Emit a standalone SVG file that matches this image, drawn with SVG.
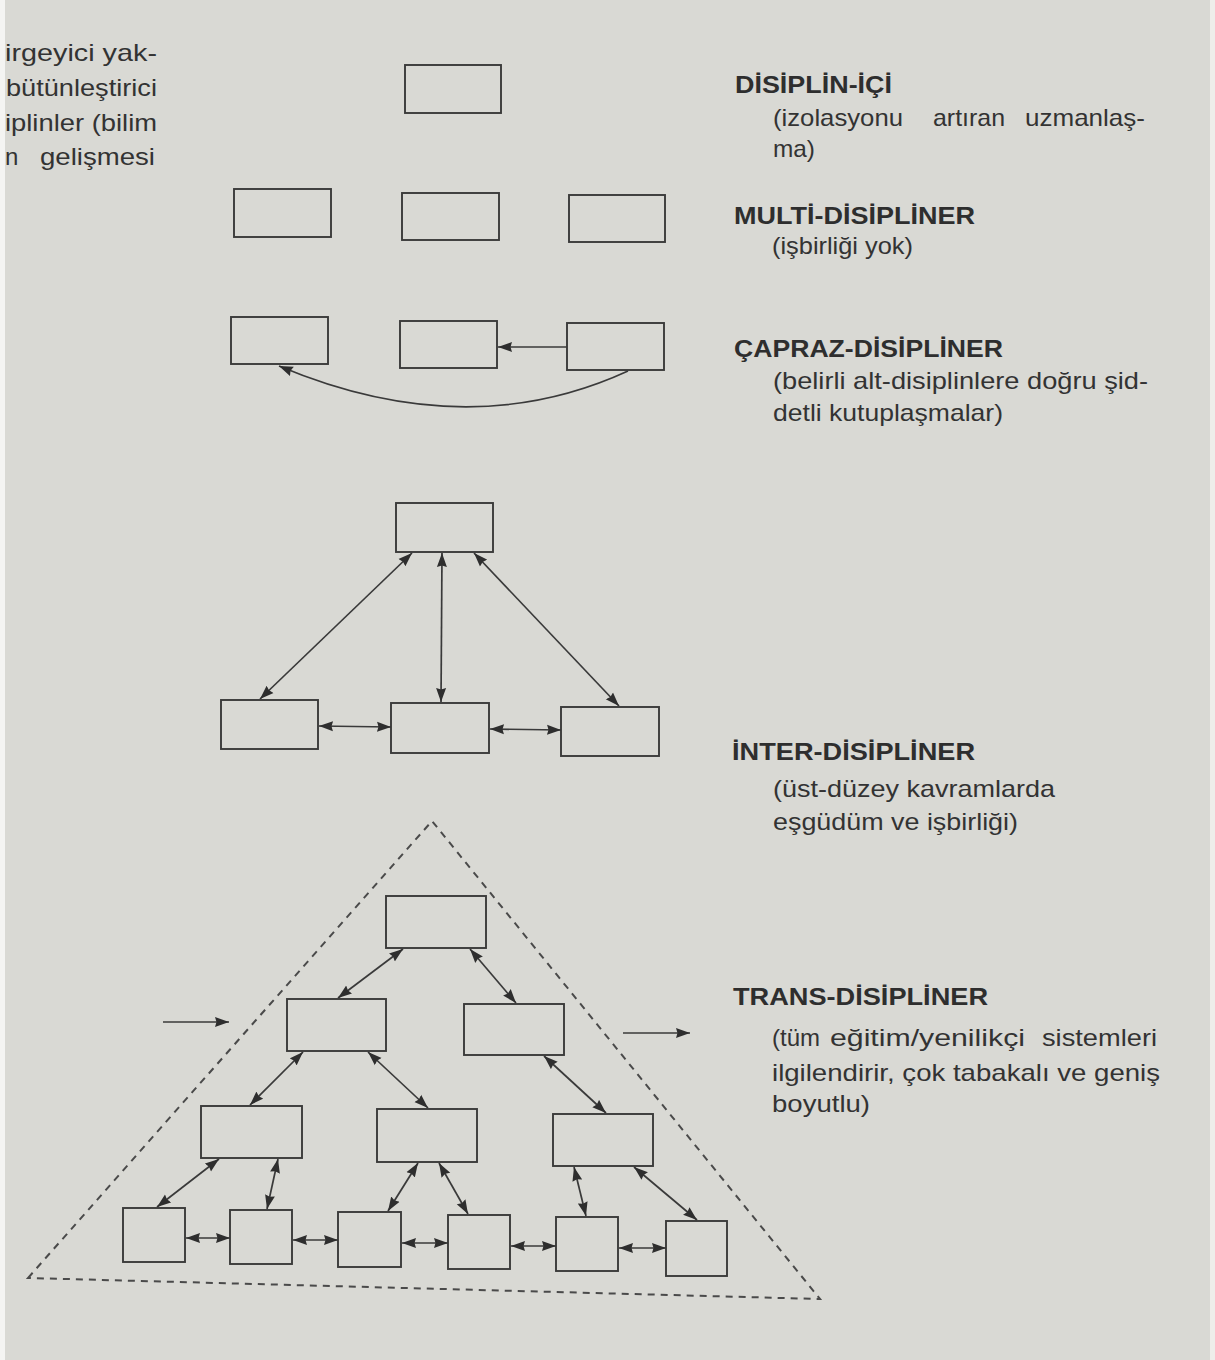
<svg xmlns="http://www.w3.org/2000/svg" width="1215" height="1360" viewBox="0 0 1215 1360">
<style>
  .bg{fill:#d9d9d4}
  .box{fill:none;stroke:#3a3a3a;stroke-width:1.9}
  .ln{fill:none;stroke:#3a3a3a;stroke-width:1.7}
  .dash{fill:none;stroke:#4a4a4a;stroke-width:2;stroke-dasharray:7 6}
  .t{font-family:"Liberation Sans",Arial,Helvetica,sans-serif;font-size:24px;fill:#333}
  .h{font-family:"Liberation Sans",Arial,Helvetica,sans-serif;font-size:23px;font-weight:bold;fill:#2e2e2e}
</style>
<defs>
  <marker id="ah" markerUnits="userSpaceOnUse" markerWidth="15" markerHeight="11" refX="14" refY="5.5" orient="auto-start-reverse">
    <path d="M0,0.5 L14,5.5 L0,10.5 L1.5,5.5 z" fill="#2e2e2e"/>
  </marker>
</defs>
<rect class="bg" x="0" y="0" width="1215" height="1360"/>

<g id="left-text">
  <text class="t" x="5" y="61" textLength="152" lengthAdjust="spacingAndGlyphs">irgeyici yak-</text>
  <text class="t" x="6" y="96" textLength="151" lengthAdjust="spacingAndGlyphs">bütünleştirici</text>
  <text class="t" x="5" y="131" textLength="152" lengthAdjust="spacingAndGlyphs">iplinler (bilim</text>
  <text class="t" y="165"><tspan x="5">n</tspan><tspan x="40" textLength="115" lengthAdjust="spacingAndGlyphs">gelişmesi</tspan></text>
</g>

<g id="labels">
  <text class="h" x="735" y="93" textLength="157" lengthAdjust="spacingAndGlyphs">DİSİPLİN-İÇİ</text>
  <text class="t" y="126"><tspan x="773" textLength="130" lengthAdjust="spacingAndGlyphs">(izolasyonu</tspan><tspan x="933" textLength="72" lengthAdjust="spacingAndGlyphs">artıran</tspan><tspan x="1025" textLength="120" lengthAdjust="spacingAndGlyphs">uzmanlaş-</tspan></text>
  <text class="t" x="773" y="157" textLength="42" lengthAdjust="spacingAndGlyphs">ma)</text>

  <text class="h" x="734" y="224" textLength="241" lengthAdjust="spacingAndGlyphs">MULTİ-DİSİPLİNER</text>
  <text class="t" x="772" y="254" textLength="141" lengthAdjust="spacingAndGlyphs">(işbirliği yok)</text>

  <text class="h" x="734" y="357" textLength="269" lengthAdjust="spacingAndGlyphs">ÇAPRAZ-DİSİPLİNER</text>
  <text class="t" x="773" y="389" textLength="375" lengthAdjust="spacingAndGlyphs">(belirli alt-disiplinlere doğru şid-</text>
  <text class="t" x="773" y="421" textLength="230" lengthAdjust="spacingAndGlyphs">detli kutuplaşmalar)</text>

  <text class="h" x="732" y="760" textLength="243" lengthAdjust="spacingAndGlyphs">İNTER-DİSİPLİNER</text>
  <text class="t" x="773" y="797" textLength="282" lengthAdjust="spacingAndGlyphs">(üst-düzey kavramlarda</text>
  <text class="t" x="773" y="830" textLength="245" lengthAdjust="spacingAndGlyphs">eşgüdüm ve işbirliği)</text>

  <text class="h" x="733" y="1005" textLength="255" lengthAdjust="spacingAndGlyphs">TRANS-DİSİPLİNER</text>
  <text class="t" y="1046"><tspan x="772" textLength="48" lengthAdjust="spacingAndGlyphs">(tüm</tspan><tspan x="830" textLength="195" lengthAdjust="spacingAndGlyphs">eğitim/yenilikçi</tspan><tspan x="1042" textLength="115" lengthAdjust="spacingAndGlyphs">sistemleri</tspan></text>
  <text class="t" x="772" y="1081" textLength="388" lengthAdjust="spacingAndGlyphs">ilgilendirir, çok tabakalı ve geniş</text>
  <text class="t" x="772" y="1112" textLength="98" lengthAdjust="spacingAndGlyphs">boyutlu)</text>
</g>

<g id="intra">
  <rect id="intra-1" class="box" x="405" y="65" width="96" height="48"/>
</g>
<g id="multi">
  <rect id="multi-1" class="box" x="234" y="189" width="97" height="48"/>
  <rect id="multi-2" class="box" x="402" y="193" width="97" height="47"/>
  <rect id="multi-3" class="box" x="569" y="195" width="96" height="47"/>
</g>
<g id="cross">
  <rect id="cross-1" class="box" x="231" y="317" width="97" height="47"/>
  <rect id="cross-2" class="box" x="400" y="321" width="97" height="47"/>
  <rect id="cross-3" class="box" x="567" y="323" width="97" height="47"/>
</g>
<g id="inter">
  <rect id="inter-top" class="box" x="396" y="503" width="97" height="49"/>
  <rect id="inter-1" class="box" x="221" y="700" width="97" height="49"/>
  <rect id="inter-2" class="box" x="391" y="703" width="98" height="50"/>
  <rect id="inter-3" class="box" x="561" y="707" width="98" height="49"/>
</g>
<g id="trans">
  <polygon id="trans-frame" class="dash" points="28,1278 432,821 820,1299"/>
  <rect id="trans-top" class="box" x="386" y="896" width="100" height="52"/>
  <rect id="trans-2a" class="box" x="287" y="999" width="99" height="52"/>
  <rect id="trans-2b" class="box" x="464" y="1004" width="100" height="51"/>
  <rect id="trans-3a" class="box" x="201" y="1106" width="101" height="52"/>
  <rect id="trans-3b" class="box" x="377" y="1109" width="100" height="53"/>
  <rect id="trans-3c" class="box" x="553" y="1114" width="100" height="52"/>
  <rect id="trans-4a" class="box" x="123" y="1208" width="62" height="54"/>
  <rect id="trans-4b" class="box" x="230" y="1210" width="62" height="54"/>
  <rect id="trans-4c" class="box" x="338" y="1212" width="63" height="55"/>
  <rect id="trans-4d" class="box" x="448" y="1215" width="62" height="54"/>
  <rect id="trans-4e" class="box" x="556" y="1217" width="62" height="54"/>
  <rect id="trans-4f" class="box" x="666" y="1221" width="61" height="55"/>
</g>

<g id="connectors">
  <line class="ln" x1="567" y1="347" x2="498" y2="347" marker-end="url(#ah)"/>
  <path class="ln" d="M628,371 Q467,445 279,366" marker-end="url(#ah)"/>

  <line class="ln" x1="412" y1="553" x2="260" y2="699" marker-start="url(#ah)" marker-end="url(#ah)"/>
  <line class="ln" x1="442" y1="553" x2="441" y2="702" marker-start="url(#ah)" marker-end="url(#ah)"/>
  <line class="ln" x1="474" y1="553" x2="619" y2="706" marker-start="url(#ah)" marker-end="url(#ah)"/>
  <line class="ln" x1="319" y1="726" x2="391" y2="727" marker-start="url(#ah)" marker-end="url(#ah)"/>
  <line class="ln" x1="490" y1="729" x2="561" y2="730" marker-start="url(#ah)" marker-end="url(#ah)"/>

  <line class="ln" x1="403" y1="949" x2="338" y2="998" marker-start="url(#ah)" marker-end="url(#ah)"/>
  <line class="ln" x1="470" y1="949" x2="516" y2="1003" marker-start="url(#ah)" marker-end="url(#ah)"/>
  <line class="ln" x1="303" y1="1052" x2="250" y2="1105" marker-start="url(#ah)" marker-end="url(#ah)"/>
  <line class="ln" x1="368" y1="1052" x2="428" y2="1108" marker-start="url(#ah)" marker-end="url(#ah)"/>
  <line class="ln" x1="544" y1="1056" x2="606" y2="1113" marker-start="url(#ah)" marker-end="url(#ah)"/>
  <line class="ln" x1="219" y1="1159" x2="157" y2="1207" marker-start="url(#ah)" marker-end="url(#ah)"/>
  <line class="ln" x1="278" y1="1159" x2="267" y2="1209" marker-start="url(#ah)" marker-end="url(#ah)"/>
  <line class="ln" x1="418" y1="1163" x2="388" y2="1211" marker-start="url(#ah)" marker-end="url(#ah)"/>
  <line class="ln" x1="439" y1="1163" x2="468" y2="1214" marker-start="url(#ah)" marker-end="url(#ah)"/>
  <line class="ln" x1="574" y1="1167" x2="586" y2="1216" marker-start="url(#ah)" marker-end="url(#ah)"/>
  <line class="ln" x1="634" y1="1167" x2="697" y2="1220" marker-start="url(#ah)" marker-end="url(#ah)"/>
  <line class="ln" x1="186" y1="1238" x2="230" y2="1238" marker-start="url(#ah)" marker-end="url(#ah)"/>
  <line class="ln" x1="293" y1="1240" x2="338" y2="1240" marker-start="url(#ah)" marker-end="url(#ah)"/>
  <line class="ln" x1="402" y1="1243" x2="448" y2="1243" marker-start="url(#ah)" marker-end="url(#ah)"/>
  <line class="ln" x1="511" y1="1246" x2="556" y2="1246" marker-start="url(#ah)" marker-end="url(#ah)"/>
  <line class="ln" x1="619" y1="1248" x2="666" y2="1248" marker-start="url(#ah)" marker-end="url(#ah)"/>
  <line class="ln" x1="163" y1="1022" x2="229" y2="1022" marker-end="url(#ah)"/>
  <line class="ln" x1="623" y1="1033" x2="690" y2="1033" marker-end="url(#ah)"/>
</g>

<rect x="0" y="0" width="5" height="1360" fill="#f4f4f2"/>
<rect x="1210" y="0" width="5" height="1360" fill="#eeeeea"/>
</svg>
